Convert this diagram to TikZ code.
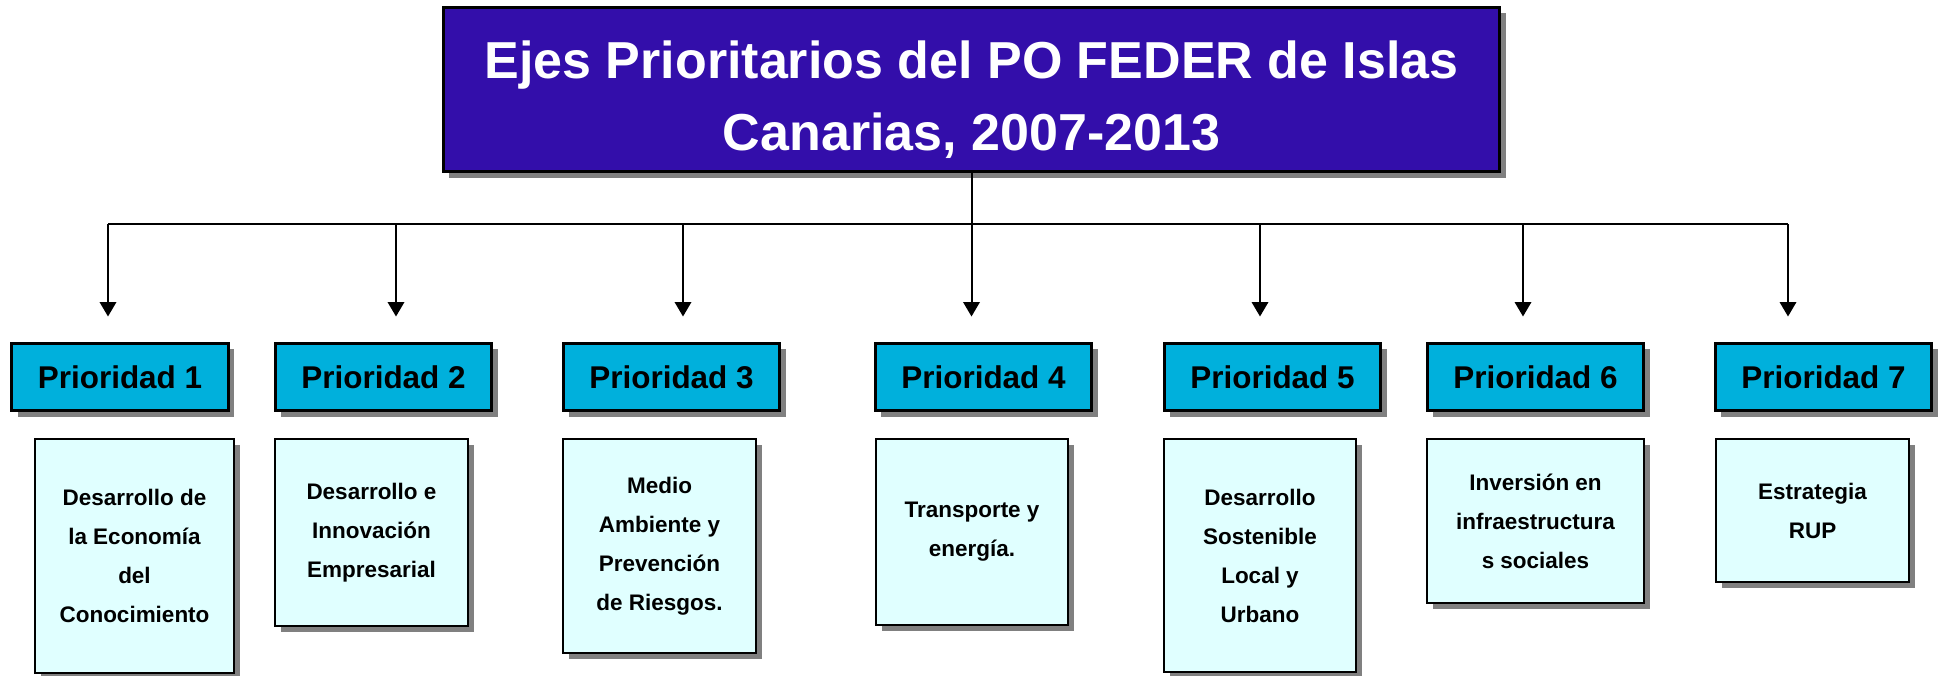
\documentclass[tikz,border=0pt]{standalone}
\usepackage{fontspec}
\setmainfont{Liberation Sans}
\usetikzlibrary{arrows.meta,shadows}
\definecolor{tituloAzul}{RGB}{51,14,170}
\definecolor{prioridadAzul}{RGB}{0,176,220}
\definecolor{ejeCian}{RGB}{224,255,255}
\definecolor{sombraGris}{RGB}{128,128,128}
\newcommand{\tikzUnit}{0.02cm}
\newcommand{\busY}{224}
\newcommand{\prioridadY}{377}
\newcommand{\arrowGap}{0.5cm}

\begin{document}
\begin{tikzpicture}[x=\tikzUnit, y=-\tikzUnit,
  sombra/.style={drop shadow={shadow xshift=0.12cm, shadow yshift=-0.12cm, fill=sombraGris, opacity=1}},
  titulo/.style={draw=black, line width=0.06cm, fill=tituloAzul, text=white, sombra, font=\bfseries\fontsize{29.6}{41.5}\selectfont, align=center, minimum width=21.14cm, minimum height=3.3cm, inner sep=0pt},
  prioridad/.style={draw=black, line width=0.06cm, fill=prioridadAzul, sombra, font=\bfseries\fontsize{17.9}{21}\selectfont, minimum width=4.34cm, minimum height=1.36cm, inner sep=0pt},
  eje/.style={draw=black, line width=0.03cm, fill=ejeCian, sombra, font=\bfseries\fontsize{12.8}{22.2}\selectfont, align=center, inner sep=0pt},
  flecha/.style={-{Triangle[length=0.29cm,width=0.33cm]}, line width=0.04cm, shorten >=\arrowGap}]
  \useasboundingbox (0,0) rectangle (1941,676);

  \node[titulo] (titulo) at (971.5,89.5) {\rule{0pt}{33pt}Ejes Prioritarios del PO FEDER de Islas\\Canarias, 2007-2013};

  \node[prioridad] (p1) at (120,\prioridadY) {Prioridad 1};
  \node[prioridad] (p2) at (383.5,\prioridadY) {Prioridad 2};
  \node[prioridad] (p3) at (671.5,\prioridadY) {Prioridad 3};
  \node[prioridad] (p4) at (983.5,\prioridadY) {Prioridad 4};
  \node[prioridad] (p5) at (1272.5,\prioridadY) {Prioridad 5};
  \node[prioridad] (p6) at (1535.5,\prioridadY) {Prioridad 6};
  \node[prioridad] (p7) at (1823.5,\prioridadY) {Prioridad 7};

  \node[eje, minimum width=3.98cm, minimum height=4.68cm] (e1) at (134.5,556) {Desarrollo de\\la Economía\\del\\Conocimiento};
  \node[eje, minimum width=3.86cm, minimum height=3.74cm] (e2) at (371.5,532.5) {Desarrollo e\\Innovación\\Empresarial};
  \node[eje, minimum width=3.86cm, minimum height=4.28cm] (e3) at (659.5,546) {Medio\\Ambiente y\\Prevención\\de Riesgos.};
  \node[eje, minimum width=3.84cm, minimum height=3.72cm] (e4) at (972,532) {Transporte y\\energía.};
  \node[eje, minimum width=3.84cm, minimum height=4.66cm] (e5) at (1260,555.5) {Desarrollo\\Sostenible\\Local y\\Urbano};
  \node[eje, minimum width=4.34cm, minimum height=3.28cm] (e6) at (1535.5,521) {Inversión en\\infraestructura\\s sociales};
  \node[eje, minimum width=3.86cm, minimum height=2.86cm] (e7) at (1812.5,510.5) {Estrategia\\RUP};

  % bus
  \coordinate (a1) at (108,\busY);
  \coordinate (a2) at (396,\busY);
  \coordinate (a3) at (683,\busY);
  \coordinate (a5) at (1260,\busY);
  \coordinate (a6) at (1523,\busY);
  \coordinate (a7) at (1788,\busY);
  \draw[line width=0.035cm] (a1) -- (a7);

  \draw[flecha] (titulo.south) -- (titulo.south |- p4.north);
  \draw[flecha] (a1) -- (a1 |- p1.north);
  \draw[flecha] (a2) -- (a2 |- p2.north);
  \draw[flecha] (a3) -- (a3 |- p3.north);
  \draw[flecha] (a5) -- (a5 |- p5.north);
  \draw[flecha] (a6) -- (a6 |- p6.north);
  \draw[flecha] (a7) -- (a7 |- p7.north);
\end{tikzpicture}
\end{document}
